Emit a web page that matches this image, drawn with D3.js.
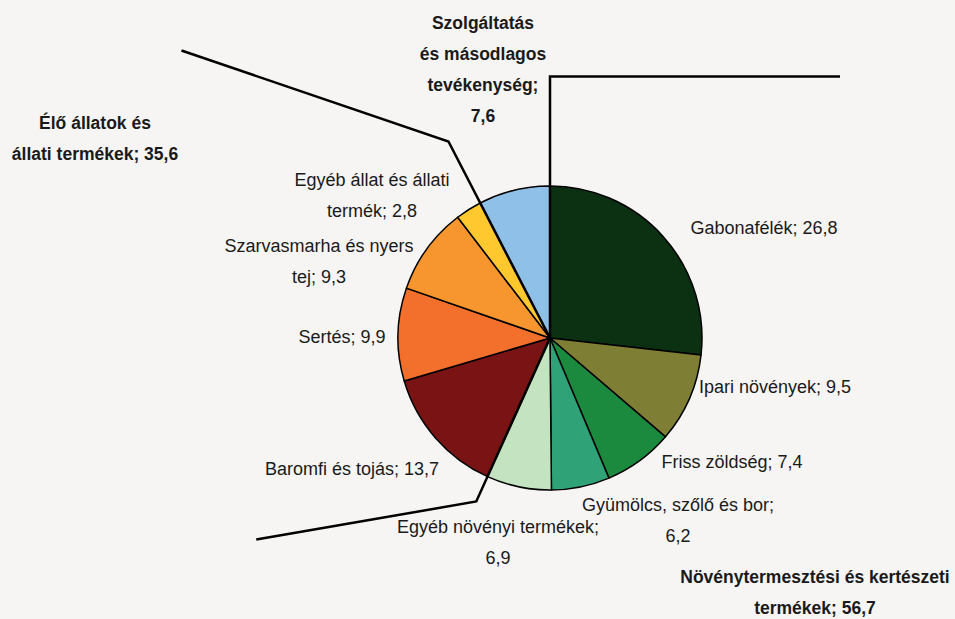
<!DOCTYPE html>
<html>
<head>
<meta charset="utf-8">
<script src="https://cdn.jsdelivr.net/npm/d3@7"></script>
<style>
  html, body { margin: 0; padding: 0; background: #f6f5f3; }
  svg { display: block; font-family: "Liberation Sans", Arial, sans-serif; }
  .lbl { font-size: 18px; fill: #1a1a1a; }
  .grp { font-size: 17.5px; font-weight: bold; fill: #1a1a1a; }
</style>
</head>
<body>
<div id="chart"></div>
<script>
// slices, clockwise from 12 o'clock
var categories = ["Gabonafélék", "Ipari növények", "Friss zöldség", "Gyümölcs, szőlő és bor",
    "Egyéb növényi termékek", "Baromfi és tojás", "Sertés", "Szarvasmarha és nyers tej",
    "Egyéb állat és állati termék", "Szolgáltatás és másodlagos tevékenység"];
var values = [26.8, 9.5, 7.4, 6.2, 6.9, 13.7, 9.9, 9.3, 2.8, 7.6];
// words per label line
var lineWords = [[3], [4], [4], [4, 1], [3, 1], [5], [2], [3, 2], [4, 2], [1, 2, 1, 1]];

// groups of slices
var groupNames = ["Növénytermesztési és kertészeti termékek", "Élő állatok és állati termékek"];
var groupValues = [56.7, 35.6];
var groupLineWords = [[3, 2], [3, 3]];

var colors = ["#0b3112", "#7e7f35", "#1b8a3f", "#2fa277", "#c4e3c1",
    "#7a1314", "#f2702c", "#f7962f", "#fec82e", "#8fc0e8"];

var width = 955, height = 619;
var cx = 550, cy = 338, radius = 152;

// label block centres, offset from pie centre
var labelOffset = [[214, -110], [225, 49], [182, 124], [128, 182], [-52, 204],
    [-198, 131], [-208, -1], [-231, -77], [-178, -143], [-67, -269]];
var groupOffset = [[265, 254], [-455, -200]];
var lineGap = 31;

var fmt = function (v) { return String(v).replace(".", ","); };

function splitLines(text, counts) {
    var words = text.split(" "), out = [], k = 0;
    counts.forEach(function (n) {
        out.push(words.slice(k, k + n).join(" "));
        k += n;
    });
    return out;
}

var svg = d3.select("#chart").append("svg")
    .attr("width", width)
    .attr("height", height);

var g = svg.append("g").attr("transform", "translate(" + cx + "," + cy + ")");

var pie = d3.pie().sort(null).value(function (d) { return d; });
var arcs = pie(values);
var arc = d3.arc().innerRadius(0).outerRadius(radius);

// slices
g.selectAll("path.slice")
    .data(arcs)
    .enter().append("path")
    .attr("class", "slice")
    .attr("d", arc)
    .attr("fill", function (d, i) { return colors[i]; })
    .attr("stroke", "#000")
    .attr("stroke-width", 1.5)
    .attr("stroke-linejoin", "round");

function polar(a, r) { return [r * Math.sin(a), -r * Math.cos(a)]; }

// group separator lines (start at centre, follow the boundary, then bend)
var aTop = arcs[0].startAngle,
    aBottom = arcs[5].startAngle,
    aLeft = arcs[9].startAngle;

var seps = [];
var p = polar(aTop, radius * 1.72);
seps.push([[0, 0], p, [p[0] + 290, p[1]]]);
p = polar(aBottom, radius * 1.18);
seps.push([[0, 0], p, [p[0] - 220, p[1] + 38]]);
p = polar(aLeft, radius * 1.455);
seps.push([[0, 0], p, [p[0] - 267, p[1] - 91]]);

g.selectAll("path.sep")
    .data(seps)
    .enter().append("path")
    .attr("class", "sep")
    .attr("d", d3.line())
    .attr("fill", "none")
    .attr("stroke", "#000")
    .attr("stroke-width", 2.5);

// slice labels
arcs.forEach(function (d, i) {
    var lines = splitLines(categories[i] + "; " + fmt(values[i]), lineWords[i]);
    var off = labelOffset[i];
    var y0 = off[1] - (lines.length - 1) * lineGap / 2;
    var t = g.append("text")
        .attr("class", i === 9 ? "grp" : "lbl")
        .attr("text-anchor", "middle");
    lines.forEach(function (s, j) {
        t.append("tspan")
            .attr("x", off[0])
            .attr("y", y0 + j * lineGap)
            .attr("dy", "0.35em")
            .text(s);
    });
});

// group labels
groupNames.forEach(function (name, i) {
    var lines = splitLines(name + "; " + fmt(groupValues[i]), groupLineWords[i]);
    var off = groupOffset[i];
    var y0 = off[1] - (lines.length - 1) * lineGap / 2;
    var t = g.append("text")
        .attr("class", "grp")
        .attr("text-anchor", "middle");
    lines.forEach(function (s, j) {
        t.append("tspan")
            .attr("x", off[0])
            .attr("y", y0 + j * lineGap)
            .attr("dy", "0.35em")
            .text(s);
    });
});
</script>
</body>
</html>
